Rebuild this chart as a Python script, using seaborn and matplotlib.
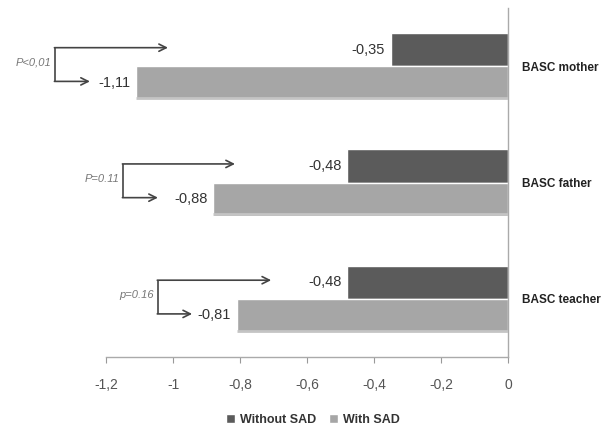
import matplotlib
matplotlib.use("Agg")
import matplotlib.pyplot as plt
import seaborn as sns
import pandas as pd

categories = ["BASC mother", "BASC father", "BASC teacher"]
without_sad = [-0.35, -0.48, -0.48]
with_sad = [-1.11, -0.88, -0.81]
series_names = ["Without SAD", "With SAD"]
x_ticks = [-1.2, -1.0, -0.8, -0.6, -0.4, -0.2, 0.0]
x_tick_labels = ["-1,2", "-1", "-0,8", "-0,6", "-0,4", "-0,2", "0"]
p_texts = ["P<0,01", "P=0.11", "p=0.16"]
# annotation bracket geometry (x in data units)
bracket_x = [-1.352, -1.149, -1.045]
top_arrow_end = [-1.015, -0.815, -0.707]
bottom_arrow_end = [-1.248, -1.045, -0.943]

df = pd.DataFrame({
    "category": categories * 2,
    "value": without_sad + with_sad,
    "series": [series_names[0]] * 3 + [series_names[1]] * 3,
})

sns.set_style("white")
plt.rcParams["font.family"] = ["Liberation Sans", "DejaVu Sans"]

fig = plt.figure(figsize=(6.04, 4.29), dpi=100)
ax = fig.add_axes([0.1755, 0.168, 0.6656, 0.813])

colors = {"Without SAD": "#5b5b5b", "With SAD": "#a6a6a6"}
sns.barplot(data=df, x="value", y="category", hue="series", orient="h",
            order=categories, hue_order=series_names, palette=colors,
            width=0.57, ax=ax, saturation=1, errorbar=None)

# subtle lighter strip along the bottom of the light bars
for patch in ax.containers[1]:
    x0, y0 = patch.get_x(), patch.get_y()
    w, h = patch.get_width(), patch.get_height()
    ax.plot([x0, x0 + w], [y0 + h - 0.012, y0 + h - 0.012], color="#c4c4c4",
            lw=2, solid_capstyle="butt", zorder=3)

def fmt(v):
    return f"{v:.2f}".replace(".", ",")

for cont, vals in zip(ax.containers, [without_sad, with_sad]):
    ax.bar_label(cont, labels=[fmt(v) for v in vals], padding=4,
                 fontsize=10.5, color="#333333")

ax.set_xlim(-1.2, 0)
ax.set_ylim(2.5, -0.5)
ax.set_xticks(x_ticks)
ax.set_xticklabels(x_tick_labels, fontsize=10, color="#555555")
ax.set_xlabel("")
ax.set_ylabel("")
ax.yaxis.tick_right()
ax.tick_params(axis="y", length=0, pad=10)
for lbl in ax.get_yticklabels():
    lbl.set_fontweight("bold")
    lbl.set_fontsize(8.5)
    lbl.set_color("#222222")
ax.tick_params(axis="x", direction="out", length=4, color="#999999", pad=11,
               bottom=True)

for s in ["top", "left"]:
    ax.spines[s].set_visible(False)
ax.spines["bottom"].set_color("#aaaaaa")
ax.spines["right"].set_color("#aaaaaa")
ax.spines["bottom"].set_linewidth(1)
ax.spines["right"].set_linewidth(1)

lc = "#444444"
for i in range(3):
    yt = i - 0.16
    yb = i + 0.13
    ax.plot([bracket_x[i], bracket_x[i]], [yt, yb], color=lc, lw=1.2,
            clip_on=False, solid_capstyle="butt")
    ax.annotate("", xy=(top_arrow_end[i], yt), xytext=(bracket_x[i] - 0.002, yt),
                arrowprops=dict(arrowstyle="->", color=lc, lw=1.2,
                                shrinkA=0, shrinkB=0, mutation_scale=13),
                annotation_clip=False)
    ax.annotate("", xy=(bottom_arrow_end[i], yb), xytext=(bracket_x[i] - 0.002, yb),
                arrowprops=dict(arrowstyle="->", color=lc, lw=1.2,
                                shrinkA=0, shrinkB=0, mutation_scale=13),
                annotation_clip=False)
    ax.text(bracket_x[i] - 0.012, i - 0.03, p_texts[i], ha="right", va="center",
            fontsize=8, style="italic", color="#777777", clip_on=False)

leg = ax.legend(loc="center", bbox_to_anchor=(0.518, 0.021),
                bbox_transform=fig.transFigure, ncol=2, frameon=False,
                handlelength=0.7, handleheight=0.7, handletextpad=0.4,
                columnspacing=1.0, prop={"weight": "bold", "size": 9})
for t in leg.get_texts():
    t.set_color("#333333")

fig.savefig("out.png", dpi=100)
